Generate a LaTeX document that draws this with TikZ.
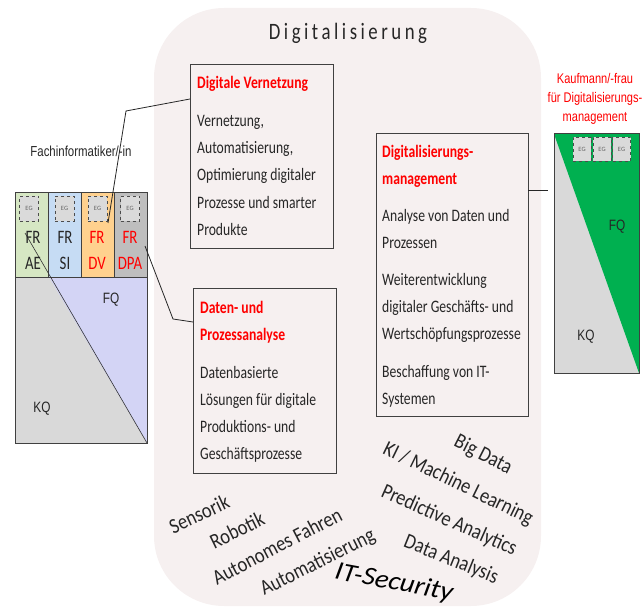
\documentclass[tikz,border=0pt]{standalone}
\usepackage{fontspec}
\setmainfont{Carlito}
\newfontfamily\boxfont[FakeStretch=0.78]{Carlito}
\newfontfamily\wordfont[FakeStretch=0.86]{Carlito}
\newfontfamily\narrowfont[FakeStretch=0.79]{Liberation Sans}
\newfontfamily\titlefont[FakeStretch=0.8,LetterSpace=15]{Carlito}
\definecolor{bgpink}{HTML}{F6F0F0}
\definecolor{boxline}{HTML}{404040}
\definecolor{txt}{HTML}{262626}
\definecolor{aegreen}{HTML}{D6E7C3}
\definecolor{siblue}{HTML}{C6DCF4}
\definecolor{dvorange}{HTML}{FFD18E}
\definecolor{dpagray}{HTML}{BEBEBE}
\definecolor{kqgray}{HTML}{D9D9D9}
\definecolor{fqlav}{HTML}{D3D4F5}
\definecolor{fqgreen}{HTML}{00B050}
\definecolor{egfill}{HTML}{DADADA}
\definecolor{redtxt}{HTML}{FF0000}
\tikzset{
  topicbox/.style={draw=boxline, line width=1.1pt, fill=none, inner sep=0pt, anchor=north west},
  boxtext/.style={anchor=north west, inner sep=0pt, align=left, text=txt,
    font=\boxfont\fontsize{17.5}{27.3}\selectfont},
  egbox/.style={draw=black!70, dashed, line width=0.7pt, fill=egfill, inner sep=0pt,
    minimum width=19pt, minimum height=25pt, text=black!60, font=\fontsize{6.5}{7}\selectfont},
  frlab/.style={align=center, inner sep=0pt, font=\boxfont\fontsize{19}{26}\selectfont},
  qlab/.style={inner sep=0pt, text=txt, font=\narrowfont\fontsize{15}{18}\selectfont},
  conn/.style={draw=black!85, line width=0.8pt},
  word/.style={inner sep=0pt, text=txt, font=\wordfont\fontsize{21.5}{23}\selectfont},
}
\begin{document}
\begin{tikzpicture}[x=1pt,y=-1pt]
\path[use as bounding box] (0,0) rectangle (643,607);
% background
\fill[bgpink, rounded corners=70pt] (154,8) rectangle (541,606);
\node[inner sep=0pt, text=txt, font=\titlefont\fontsize{23.5}{25}\selectfont] (title) at (348,33) {Digitalisierung};

% left diagram
\fill[kqgray] (15,277) rectangle (147,443);
\fill[fqlav] (49,277) -- (147,277) -- (147,443) -- cycle;
\fill[aegreen] (15,193) rectangle (48,277);
\fill[siblue] (48,193) rectangle (81,277);
\fill[dvorange] (81,193) rectangle (114,277);
\fill[dpagray] (114,193) rectangle (147,277);
\draw[boxline, line width=0.8pt] (48,193) -- (48,277) (81,193) -- (81,277) (114,193) -- (114,277) (15,277) -- (147,277);
\draw[black!80, line width=0.6pt] (25,233) -- (147,443);
\draw[boxline, line width=1pt] (15,193) rectangle (147,443);
\node[egbox] (egae) at (29,208.5) {EG};
\node[egbox] (egsi) at (64.5,208.5) {EG};
\node[egbox] (egdv) at (97.5,208.5) {EG};
\node[egbox] (egdpa) at (130,208.5) {EG};
\node[frlab, text=txt] (frae) at (33,250) {FR\\AE};
\node[frlab, text=txt] (frsi) at (65,250) {FR\\SI};
\node[frlab, text=redtxt] (frdv) at (97,250) {FR\\DV};
\node[frlab, text=redtxt] (frdpa) at (130,250) {FR\\DPA};
\node[qlab] (fqleft) at (111,300) {FQ};
\node[qlab] (kqleft) at (42,409) {KQ};
\node[inner sep=0pt, text=txt, font=\narrowfont\fontsize{14.5}{16}\selectfont] (fachinf) at (81,151) {Fachinformatiker/-in};

% right diagram
\fill[kqgray] (554,134) rectangle (639,373);
\fill[fqgreen] (554,134) -- (639,134) -- (639,373) -- cycle;
\draw[boxline, line width=1pt] (554,134) rectangle (639,373);
\node[egbox, minimum width=18pt, minimum height=24pt] (egr1) at (582,149) {EG};
\node[egbox, minimum width=18pt, minimum height=24pt] (egr2) at (602,149) {EG};
\node[egbox, minimum width=18pt, minimum height=24pt] (egr3) at (621.5,149) {EG};
\node[qlab] (fqright) at (617,227) {FQ};
\node[qlab] (kqright) at (586,337) {KQ};
\node[align=center, inner sep=0pt, text=redtxt, font=\narrowfont\fontsize{14}{19}\selectfont] (kaufm) at (595,99) {Kaufmann/-frau\\für Digitalisierungs-\\management};

% topic boxes
\node[topicbox, minimum width=143pt, minimum height=184pt] (b1) at (190,64) {};
\node[boxtext] (t1) at (197,76) {\textcolor{redtxt}{\bfseries Digitale Vernetzung}\\[10.5pt]
Vernetzung,\\Automatisierung,\\Optimierung digitaler\\Prozesse und smarter\\Produkte};

\node[topicbox, minimum width=143pt, minimum height=185pt] (b2) at (193,288) {};
\node[boxtext] (t2) at (200,301) {\textcolor{redtxt}{\bfseries Daten- und}\\\textcolor{redtxt}{\bfseries Prozessanalyse}\\[10pt]
Datenbasierte\\Lösungen für digitale\\Produktions- und\\Geschäftsprozesse};

\node[topicbox, minimum width=152pt, minimum height=283pt] (b3) at (376,133) {};
\node[boxtext] (t3) at (382,145) {\textcolor{redtxt}{\bfseries Digitalisierungs-}\\\textcolor{redtxt}{\bfseries management}\\[9pt]
Analyse von Daten und\\Prozessen\\[9.5pt]
Weiterentwicklung\\digitaler Geschäfts- und\\Wertschöpfungsprozesse\\[10pt]
Beschaffung von IT-\\Systemen};

% connectors
\coordinate (c1a) at (190,99);
\coordinate (c1b) at (126,111);
\coordinate (c1c) at (108,223);
\draw[conn] (c1a) -- (c1b) -- (c1c);
\coordinate (c2a) at (193,322);
\coordinate (c2b) at (173,319);
\coordinate (c2c) at (145,246);
\draw[conn] (c2a) -- (c2b) -- (c2c);
\coordinate (c3a) at (528,190);
\coordinate (c3b) at (548,190);
\draw[conn] (c3a) -- (c3b);

% keywords
\node[word, rotate=25] (w1) at (199,514) {Sensorik};
\node[word, rotate=26] (w2) at (237,530) {Robotik};
\node[word, rotate=27.5] (w3) at (277,546) {Autonomes Fahren};
\node[word, rotate=26.5] (w4) at (318,563) {Automatisierung};
\node[inner sep=0pt, text=black, xscale=1.1, rotate=-11.5, font=\itshape\fontsize{26}{28}\selectfont] (w5) at (394,583) {IT-Security};
\node[word, rotate=-22] (w6) at (451,560) {Data Analysis};
\node[word, rotate=-24] (w7) at (449,521) {Predictive Analytics};
\node[word, rotate=-26] (w8) at (458,484) {KI / Machine Learning};
\node[word, rotate=-27] (w9) at (483,455) {Big Data};
\end{tikzpicture}
\end{document}
